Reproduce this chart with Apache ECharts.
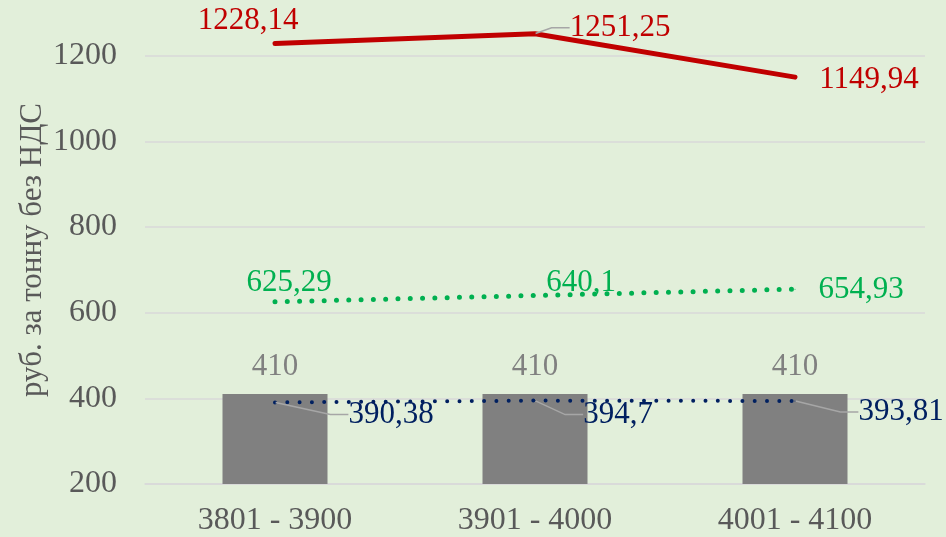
<!DOCTYPE html>
<html>
<head>
<meta charset="utf-8">
<script src="https://cdn.jsdelivr.net/npm/echarts@6/dist/echarts.min.js"></script>
<style>
html,body{margin:0;padding:0;background:#E2EFDA;overflow:hidden;width:946px;height:537px;}
#chart{width:946px;height:567px;margin-top:-30px;}
</style>
</head>
<body>
<div id="chart"></div>
<script>
const categories = ['3801 - 3900', '3901 - 4000', '4001 - 4100'];
const barValues = [410, 410, 410];
const redValues = [1228.14, 1251.25, 1149.94];
const greenValues = [625.29, 640.1, 654.93];
const navyValues = [390.38, 394.7, 393.81];
const yMin = 200, yMax = 1400, yInterval = 200;
const yAxisTitle = 'руб. за тонну без НДС';

// label placement (style only)
const redOffsets = [[-27, -23], [85, -6], [74, 3]];
const greenOffsets = [[14, -19], [46, -13], [66, 1]];
const navyOffsets = [[116, 12], [83, 14], [106, 11]];
const redLeader = [false, true, false];
const greenLeader = [false, false, false];
const navyLeader = [true, true, true];

const FONT = '"Liberation Serif", "Times New Roman", serif';
const fmt = p => String(p.value).replace('.', ',');

function lineSeries(name, values, color, width, dash, offsets, leader, z) {
  return {
    name, type: 'line', data: values.map((v, i) => ({
      value: v,
      labelLine: { show: leader[i] }
    })),
    z,
    symbol: 'circle', symbolSize: 1, showSymbol: true,
    itemStyle: { color },
    lineStyle: { color, width, type: dash, cap: 'round' },
    label: {
      show: true, position: 'inside', formatter: fmt,
      color, fontFamily: FONT, fontSize: 31, padding: [0, 6]
    },
    labelLayout: p => ({ dx: offsets[p.dataIndex][0], dy: offsets[p.dataIndex][1] }),
    labelLine: { show: false, length2: 18, lineStyle: { color: '#A6A6A6', width: 1.5 } },
    emphasis: { disabled: true },
    animation: false
  };
}

const chart = echarts.init(document.getElementById('chart'));
chart.setOption({
  backgroundColor: '#E2EFDA',
  animation: false,
  grid: { left: 145, right: 21, top: 0, bottom: 53, containLabel: false, outerBoundsMode: 'none' },
  xAxis: {
    type: 'category', data: categories,
    axisLine: { lineStyle: { color: '#D9D9D9', width: 1.5 } },
    axisTick: { show: false },
    axisLabel: { color: '#595959', fontFamily: FONT, fontSize: 32, margin: 21 }
  },
  yAxis: {
    type: 'value', min: yMin, max: yMax, interval: yInterval,
    axisLine: { show: false }, axisTick: { show: false },
    splitLine: { lineStyle: { color: '#D9D9D9', width: 1.5 } },
    axisLabel: { color: '#595959', fontFamily: FONT, fontSize: 32, margin: 28, formatter: v => String(v) }
  },
  graphic: [{
    type: 'text', x: 33, y: 280, rotation: Math.PI / 2,
    style: { text: yAxisTitle, font: '31px ' + FONT, fill: '#595959', align: 'center', verticalAlign: 'middle' }
  }],
  series: [
    {
      name: 'bar', type: 'bar', data: barValues, barWidth: 105, z: 1,
      itemStyle: { color: '#808080' },
      label: { show: true, position: 'top', distance: 12, color: '#808080', fontFamily: FONT, fontSize: 31 },
      emphasis: { disabled: true }
    },
    lineSeries('navy', navyValues, '#002060', 4, [0, 12.3], navyOffsets, navyLeader, 3),
    lineSeries('green', greenValues, '#00B050', 5, [0, 12.3], greenOffsets, greenLeader, 4),
    lineSeries('red', redValues, '#C00000', 5, 'solid', redOffsets, redLeader, 5)
  ]
});
</script>
</body>
</html>
